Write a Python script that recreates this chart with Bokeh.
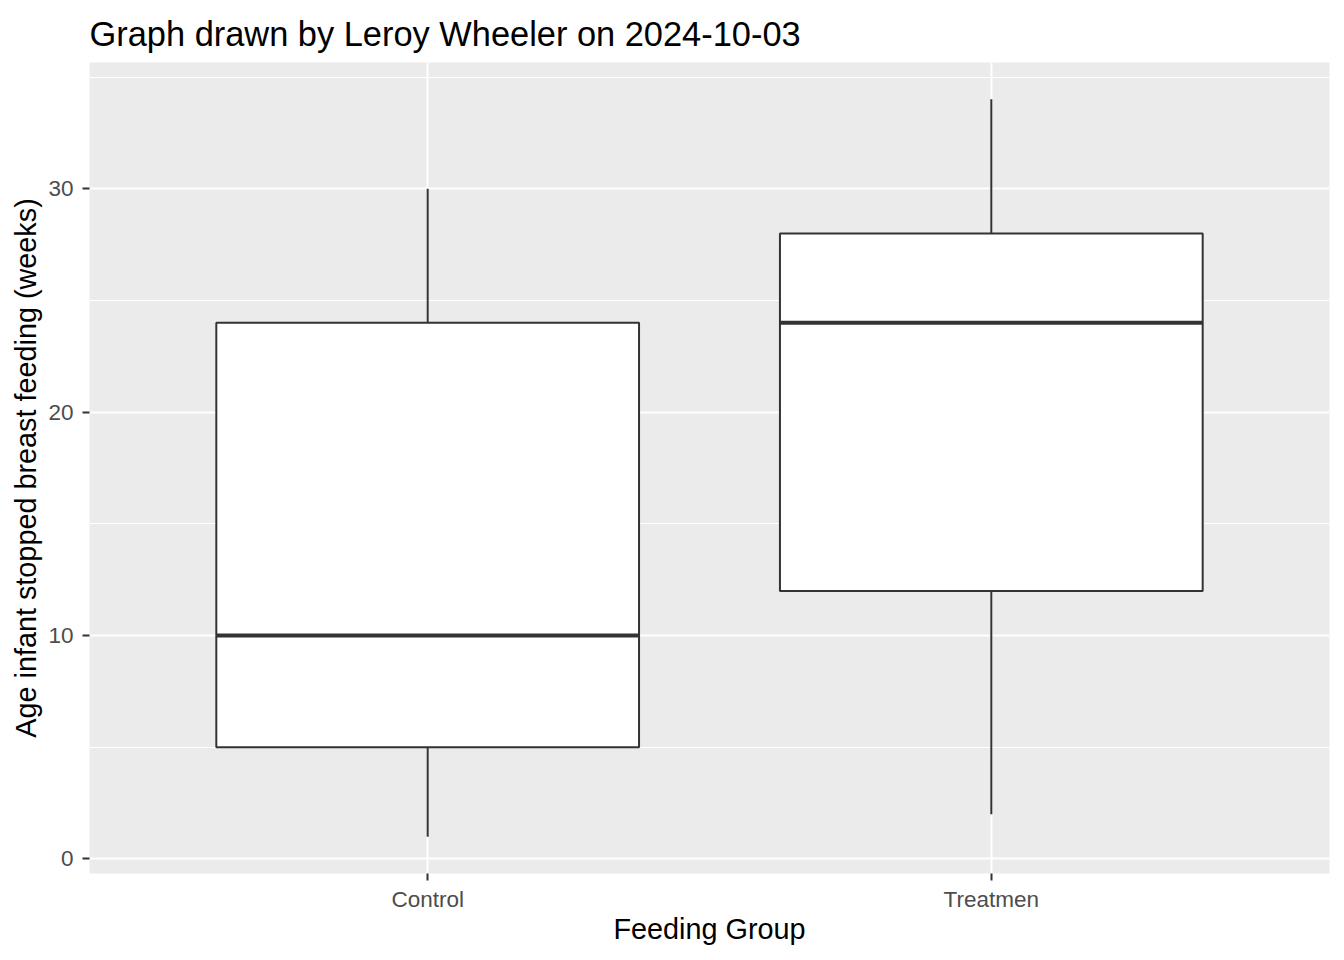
from bokeh.plotting import figure
from bokeh.models import Range1d, FixedTicker, ColumnDataSource
from bokeh.embed import file_html
from bokeh.resources import INLINE

# Data
groups = ["Control", "Treatmen"]
q_min = [1, 2]
q1 = [5, 12]
median = [10, 24]
q3 = [24, 28]
q_max = [30, 34]

pos = [i + 1 for i in range(len(groups))]
box_w = 0.75
src = ColumnDataSource(dict(
    x=pos, q_min=q_min, q1=q1, median=median, q3=q3, q_max=q_max,
    x0=[x - box_w / 2 for x in pos], x1=[x + box_w / 2 for x in pos],
))

FONT = "Liberation Sans"

p = figure(width=1344, height=960, output_backend="svg", toolbar_location=None,
           x_range=Range1d(0.4, 2.6), y_range=Range1d(-0.65, 35.65),
           min_border_left=89, min_border_right=15, min_border_top=62, min_border_bottom=87,
           title="Graph drawn by Leroy Wheeler on 2024-10-03")

p.background_fill_color = "#EBEBEB"
p.border_fill_color = "white"
p.outline_line_color = None

p.title.text_font = FONT
p.title.text_font_size = "34.4px"
p.title.text_font_style = "normal"
p.title.text_color = "black"
p.title.align = "left"
p.title.standoff = 20

# axes
for ax in (p.xaxis[0], p.yaxis[0]):
    ax.axis_line_color = None
    ax.major_tick_line_color = "#333333"
    ax.major_tick_line_width = 2
    ax.major_tick_out = 7
    ax.major_tick_in = 0
    ax.minor_tick_line_color = None
    ax.major_label_text_font = FONT
    ax.major_label_text_font_size = "22.5px"
    ax.major_label_text_color = "#4D4D4D"
    ax.axis_label_text_font = FONT
    ax.axis_label_text_font_size = "28.8px"
    ax.axis_label_text_font_style = "normal"
    ax.axis_label_text_color = "black"

p.xaxis.ticker = FixedTicker(ticks=pos)
p.xaxis.major_label_overrides = {x: g for x, g in zip(pos, groups)}
p.xaxis.axis_label = "Feeding Group"
p.xaxis.major_label_standoff = 6
p.xaxis.axis_label_standoff = -2

p.yaxis.ticker = FixedTicker(ticks=[0, 10, 20, 30], minor_ticks=[5, 15, 25, 35])
p.yaxis.axis_label = "Age infant stopped breast feeding (weeks)"
p.yaxis.major_label_standoff = 9
p.yaxis.axis_label_standoff = 3

# grids
p.xgrid.ticker = FixedTicker(ticks=pos)
p.xgrid.grid_line_color = "white"
p.xgrid.grid_line_width = 2
p.ygrid.ticker = FixedTicker(ticks=[0, 10, 20, 30], minor_ticks=[5, 15, 25, 35])
p.ygrid.grid_line_color = "white"
p.ygrid.grid_line_width = 2
p.ygrid.minor_grid_line_color = "white"
p.ygrid.minor_grid_line_width = 1

# whiskers
p.segment(x0="x", y0="q3", x1="x", y1="q_max", source=src, line_color="#333333", line_width=2)
p.segment(x0="x", y0="q1", x1="x", y1="q_min", source=src, line_color="#333333", line_width=2)
# boxes
p.vbar(x="x", width=box_w, bottom="q1", top="q3", source=src,
       fill_color="white", line_color="#333333", line_width=2)
# medians
p.segment(x0="x0", y0="median", x1="x1", y1="median", source=src,
          line_color="#333333", line_width=4)

open("out.html", "w").write(file_html(p, INLINE))
